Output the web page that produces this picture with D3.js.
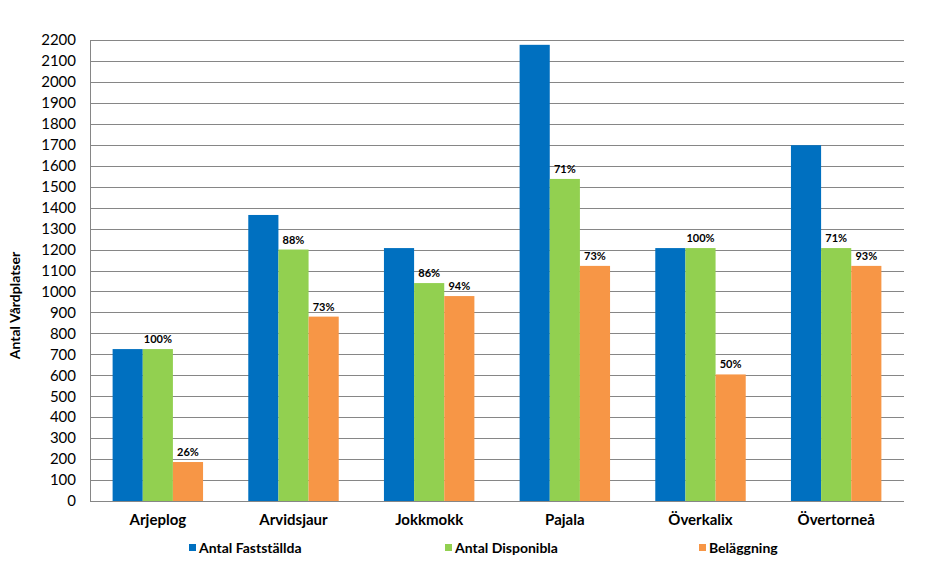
<!DOCTYPE html>
<html>
<head>
<meta charset="utf-8">
<script src="https://cdn.jsdelivr.net/npm/d3@7"></script>
<style>
  html, body { margin: 0; padding: 0; background: #fff; }
  svg { display: block; font-family: Lato, "Open Sans", sans-serif; }
</style>
</head>
<body>
<svg id="chart" width="928" height="564"></svg>
<script>
const categories = ["Arjeplog", "Arvidsjaur", "Jokkmokk", "Pajala", "Överkalix", "Övertorneå"];
const seriesNames = ["Antal Fastställda", "Antal Disponibla", "Beläggning"];
const fastställda = [725, 1365, 1207, 2177, 1207, 1698];
const disponibla  = [725, 1200, 1040, 1537, 1207, 1207];
const beläggning  = [186, 880, 978, 1122, 604, 1122];
const disponiblaPct = ["100%", "88%", "86%", "71%", "100%", "71%"];
const beläggningPct = ["26%", "73%", "94%", "73%", "50%", "93%"];
const yTicks = d3.range(0, 2201, 100);
const colors = ["#0070C0", "#92D050", "#F79646"];

const svg = d3.select("#chart");
const m = { left: 90, right: 904, top: 40, bottom: 501 };

const y = d3.scaleLinear().domain([0, 2200]).range([m.bottom, m.top]);
const x0 = d3.scaleBand().domain(categories).range([m.left, m.right]).paddingInner(0).paddingOuter(0);
const bw = x0.bandwidth();
const gap = bw / 4.5 * 1.5;
const x1 = d3.scaleBand().domain(seriesNames).range([gap / 2, bw - gap / 2]).padding(0);

// gridlines
svg.append("g").selectAll("line").data(yTicks).join("line")
  .attr("x1", m.left).attr("x2", m.right)
  .attr("y1", d => Math.round(y(d)) + 0.5).attr("y2", d => Math.round(y(d)) + 0.5)
  .attr("stroke", "#868686").attr("stroke-width", 1);

// y axis
const yAxis = svg.append("g").attr("transform", `translate(${m.left},0)`)
  .call(d3.axisLeft(y).tickValues(yTicks).tickFormat(d3.format("d")).tickSize(0).tickPadding(14));
yAxis.select(".domain").remove();
yAxis.selectAll("text").attr("font-size", 15).attr("fill", "#000").attr("font-family", "Lato, sans-serif");
svg.append("line").attr("x1", m.left + 0.5).attr("x2", m.left + 0.5)
  .attr("y1", m.top).attr("y2", m.bottom).attr("stroke", "#868686");

// bars
const seriesData = [fastställda, disponibla, beläggning];
const groups = svg.append("g").selectAll("g").data(categories).join("g")
  .attr("transform", d => `translate(${x0(d)},0)`);
groups.each(function(cat, i) {
  const g = d3.select(this);
  seriesNames.forEach((s, j) => {
    const v = seriesData[j][i];
    g.append("rect")
      .attr("x", x1(s)).attr("width", x1.bandwidth())
      .attr("y", y(v)).attr("height", y(0) - y(v))
      .attr("fill", colors[j]);
  });
  [[1, disponiblaPct], [2, beläggningPct]].forEach(([j, labels]) => {
    const v = seriesData[j][i];
    g.append("text")
      .attr("x", x1(seriesNames[j]) + x1.bandwidth() / 2)
      .attr("y", y(v) - 6)
      .attr("text-anchor", "middle")
      .attr("font-size", 11).attr("font-weight", "bold").attr("fill", "#000")
      .text(labels[i]);
  });
});

// x axis line
svg.append("line").attr("x1", m.left).attr("x2", m.right)
  .attr("y1", Math.round(y(0)) + 0.5).attr("y2", Math.round(y(0)) + 0.5).attr("stroke", "#868686");

// x category labels
const xAxis = svg.append("g").attr("transform", `translate(0,${m.bottom})`)
  .call(d3.axisBottom(x0).tickSize(0).tickPadding(13));
xAxis.select(".domain").remove();
xAxis.selectAll("text").attr("font-size", 15).attr("font-weight", "bold").attr("fill", "#000")
  .attr("font-family", "Lato, sans-serif");

// y title
svg.append("text")
  .attr("transform", `translate(20,${(m.top + m.bottom) / 2 + 35}) rotate(-90)`)
  .attr("text-anchor", "middle").attr("font-size", 14).attr("font-weight", "bold").attr("fill", "#000")
  .text("Antal Vårdplatser");

// legend
const legendX = [189, 445, 699];
const legend = svg.append("g").selectAll("g").data(seriesNames).join("g")
  .attr("transform", (d, i) => `translate(${legendX[i]},548)`);
legend.append("rect").attr("x", 0).attr("y", -4).attr("width", 7).attr("height", 7)
  .attr("fill", (d, i) => colors[i]);
legend.append("text").attr("x", 10).attr("y", 0).attr("dy", "0.35em")
  .attr("font-size", 14).attr("font-weight", "bold").attr("fill", "#000")
  .text(d => d);
</script>
</body>
</html>
